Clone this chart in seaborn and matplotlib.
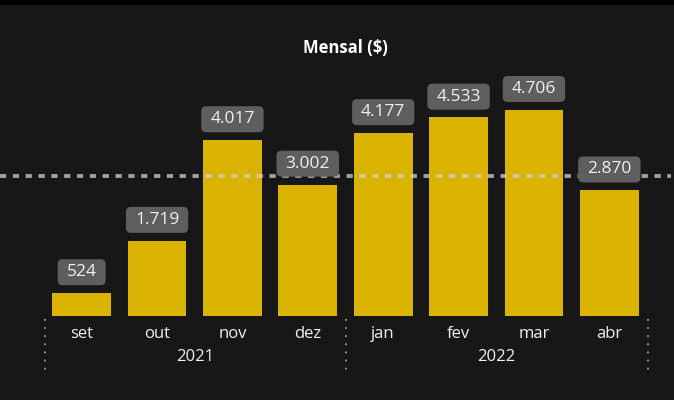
import matplotlib
matplotlib.use("Agg")
import matplotlib.pyplot as plt
import matplotlib.transforms as mtransforms
from matplotlib.patches import Rectangle, FancyBboxPatch
import seaborn as sns
import pandas as pd
import numpy as np

# ---- data ----
months = ["set", "out", "nov", "dez", "jan", "fev", "mar", "abr"]
years = ["2021", "2021", "2021", "2021", "2022", "2022", "2022", "2022"]
values = [524, 1719, 4017, 3002, 4177, 4533, 4706, 2870]
title = "Mensal ($)"

BG = "#171717"
BAR = "#DAB300"
BOX = "#5E5E5E"
TXT = "#F0F0F0"

sns.set_theme(style="dark")
plt.rcParams["font.family"] = ["Open Sans", "DejaVu Sans"]

df = pd.DataFrame({"month": months, "year": years, "value": values})
df["key"] = [f"{m}-{y}" for m, y in zip(months, years)]

fig = plt.figure(figsize=(6.74, 4.0), dpi=100, facecolor=BG)
ax = fig.add_axes([44 / 674, 1 - 316 / 400, 603 / 674, 246 / 400])
ax.set_facecolor(BG)

sns.barplot(data=df, x="key", y="value", color=BAR, saturation=1,
            width=0.78, ax=ax, zorder=2, linewidth=0, edgecolor="none")
ax.set_ylim(0, 5616)
ax.set_xlim(-0.5, len(months) - 0.5)

for s in ax.spines.values():
    s.set_visible(False)
ax.set_yticks([])
ax.set_xticks(range(len(months)))
ax.set_xticklabels(months, color=TXT, fontsize=12)
ax.tick_params(axis="x", length=0, pad=7)
ax.set_xlabel("")
ax.set_ylabel("")
ax.grid(False)

# average line
avg = float(np.mean(values))
ax.axhline(avg, xmin=-44 / 603, xmax=1 + 24 / 603, clip_on=False,
           color="#D0D0D0", alpha=0.75, linewidth=2.8,
           dashes=(1.6, 1.7), zorder=3)

# value labels
texts = []
for i, v in enumerate(values):
    lab = f"{v:,}".replace(",", ".")
    t = ax.annotate(lab, (i, v), xytext=(0, 15), textcoords="offset points",
                    ha="center", va="center", color=TXT, fontsize=12.5,
                    zorder=6)
    texts.append(t)

fig.canvas.draw()
renderer = fig.canvas.get_renderer()
for t in texts:
    bb = t.get_window_extent(renderer)
    cx = (bb.x0 + bb.x1) / 2
    cy = (bb.y0 + bb.y1) / 2
    w = bb.width + 18
    h = 26
    box = FancyBboxPatch((cx - w / 2, cy - h / 2), w, h,
                         boxstyle="round,pad=0,rounding_size=5",
                         transform=None, fc=BOX, ec="none", zorder=5)
    ax.add_artist(box)

# year labels and separators
trans = mtransforms.blended_transform_factory(ax.transData, ax.transAxes)
uniq = []
for y in years:
    if y not in uniq:
        uniq.append(y)
for y in uniq:
    idx = [i for i, yy in enumerate(years) if yy == y]
    ax.text(np.mean(idx), -41 / 246, y, transform=trans, ha="center",
            va="center", color=TXT, fontsize=12)
bounds = [-0.5] + [i + 0.5 for i in range(len(years) - 1) if years[i] != years[i + 1]] + [len(years) - 0.5]
for b in bounds:
    ax.plot([b + 0.01, b + 0.01], [-3 / 246, -56 / 246], transform=trans,
            clip_on=False, color="#9A9A9A", linewidth=1.3,
            linestyle=(0, (1, 3.5)))

ax.set_title(title, color="white", fontsize=12, fontweight="bold", pad=0,
             y=(316 - 48) / 246)
ax.title.set_va("center")

# black top strip
fig.patches.append(Rectangle((0, 1 - 5 / 400), 1, 5 / 400, transform=fig.transFigure,
                             facecolor="black", edgecolor="none", zorder=10))

fig.savefig("out.png", dpi=100, facecolor=BG)
